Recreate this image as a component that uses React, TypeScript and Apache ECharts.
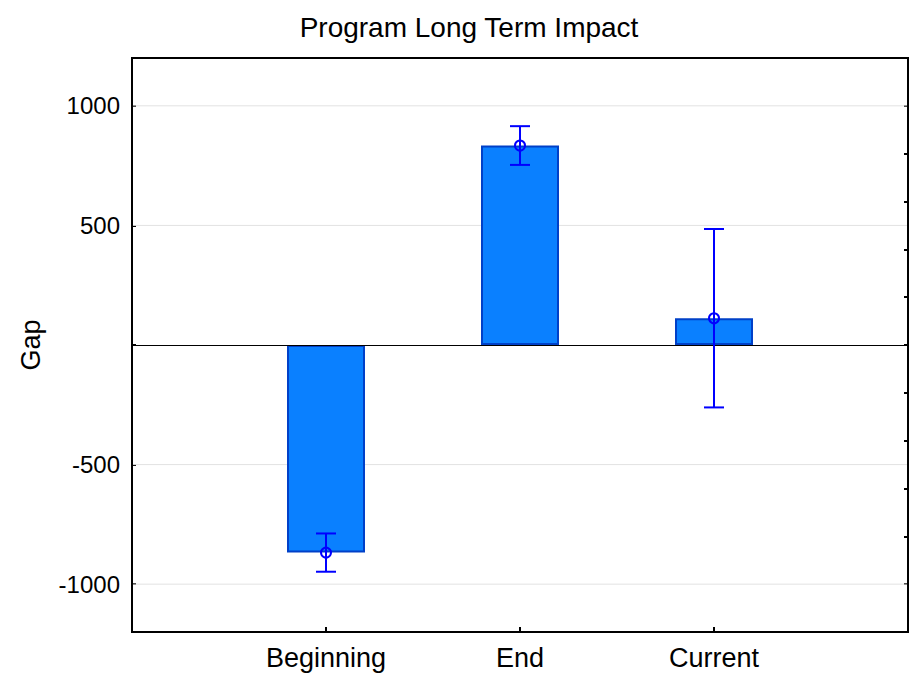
import React, { useEffect, useRef } from "react";
import * as echarts from "echarts";

const categories = ["Beginning", "End", "Current"];
const barValues = [-868, 834, 112];
const means = [-868, 834, 112];
const errors = [80, 81, 373];
const yTicks = [-1000, -500, 0, 500, 1000];
const gridValues = [-1000, -500, 500, 1000];

const FONT = "Liberation Sans, Arial, sans-serif";

export default function App() {
  const ref = useRef<HTMLDivElement>(null);
  useEffect(() => {
    if (!ref.current) return;
    const chart = echarts.init(ref.current, null, { renderer: "svg" });
    const axisCats = ["", ...categories, ""];
    const barData = ["-", ...barValues, "-"];
    const errData = means.map((m, i) => [i + 1, m, errors[i]]);
    const gridData = gridValues.map((v) => [v]);

    chart.setOption({
      animation: false,
      backgroundColor: "#ffffff",
      title: {
        text: "Program Long Term Impact",
        left: 464,
        textAlign: "center",
        top: 8,
        textStyle: { fontFamily: FONT, fontSize: 28, fontWeight: "normal", color: "#000" },
      },
      grid: {
        left: 132,
        top: 58,
        right: 4,
        bottom: 45,
        show: true,
        borderColor: "#000",
        borderWidth: 2,
        backgroundColor: "#ffffff",
      },
      xAxis: {
        type: "category",
        data: axisCats,
        boundaryGap: false,
        axisLine: { show: true, onZero: false, lineStyle: { color: "#000", width: 2 } },
        axisTick: { show: true, inside: true, length: 5, lineStyle: { color: "#000", width: 2 } },
        axisLabel: { fontFamily: FONT, fontSize: 27, color: "#000", margin: 12 },
        splitLine: { show: false },
      },
      yAxis: [
        {
          type: "value",
          min: -1200,
          max: 1200,
          name: "Gap",
          nameLocation: "middle",
          nameGap: 88,
          nameTextStyle: { fontFamily: FONT, fontSize: 27, color: "#000" },
          axisLine: { show: true, onZero: false, lineStyle: { color: "#000", width: 2 } },
          axisTick: {
            show: true,
            inside: true,
            length: 4,
            customValues: yTicks,
            lineStyle: { color: "#000", width: 2 },
          },
          axisLabel: {
            fontFamily: FONT,
            fontSize: 24,
            color: "#000",
            margin: 12,
            customValues: yTicks,
            formatter: (v: number) => (v === 0 ? "" : String(v)),
          },
          splitLine: { show: false },
        },
        {
          type: "value",
          position: "right",
          min: -1200,
          max: 1200,
          interval: 200,
          axisLine: { show: false, onZero: false },
          axisTick: { show: true, inside: true, length: 4, lineStyle: { color: "#000", width: 2 } },
          axisLabel: { show: false },
          splitLine: { show: false },
        },
      ],
      series: [
        {
          type: "custom",
          z: 1,
          silent: true,
          data: gridData,
          renderItem: (params: any, api: any) => {
            const v = api.value(0);
            const cs = params.coordSys;
            const y = api.coord([0, v])[1];
            return {
              type: "line",
              shape: { x1: cs.x + 1, y1: y, x2: cs.x + cs.width - 1, y2: y },
              style: { stroke: "#e2e2e2", lineWidth: 1 },
            };
          },
        },
        {
          type: "bar",
          z: 2,
          data: barData,
          barWidth: 78,
          itemStyle: { color: "#0a80ff", borderColor: "#0040c8", borderWidth: 2 },
        },
        {
          type: "custom",
          z: 3,
          data: [[0]],
          renderItem: (params: any, api: any) => {
            const cs = params.coordSys;
            const y = Math.round(api.coord([0, 0])[1]) + 0.5;
            return {
              type: "line",
              shape: { x1: cs.x + 1, y1: y, x2: cs.x + cs.width - 1, y2: y },
              style: { stroke: "#000", lineWidth: 1 },
            };
          },
          silent: true,
        },
        {
          type: "custom",
          z: 4,
          data: errData,
          renderItem: (params: any, api: any) => {
            const xi = api.value(0);
            const m = api.value(1);
            const e = api.value(2);
            const top = api.coord([xi, m + e]);
            const bot = api.coord([xi, m - e]);
            const mid = api.coord([xi, m]);
            const cap = 10;
            const st = { stroke: "#0000ff", lineWidth: 2 };
            return {
              type: "group",
              children: [
                { type: "line", shape: { x1: top[0], y1: top[1], x2: bot[0], y2: bot[1] }, style: st },
                { type: "line", shape: { x1: top[0] - cap, y1: top[1], x2: top[0] + cap, y2: top[1] }, style: st },
                { type: "line", shape: { x1: bot[0] - cap, y1: bot[1], x2: bot[0] + cap, y2: bot[1] }, style: st },
                { type: "circle", shape: { cx: mid[0], cy: mid[1], r: 5 }, style: { stroke: "#0000ff", lineWidth: 2, fill: "none" } },
              ],
            };
          },
          silent: true,
        },
      ],
    });
    return () => chart.dispose();
  }, []);
  return (
    <div
      ref={ref}
      style={{ position: "fixed", left: 0, top: 0, width: 912, height: 677, background: "#fff" }}
    />
  );
}
